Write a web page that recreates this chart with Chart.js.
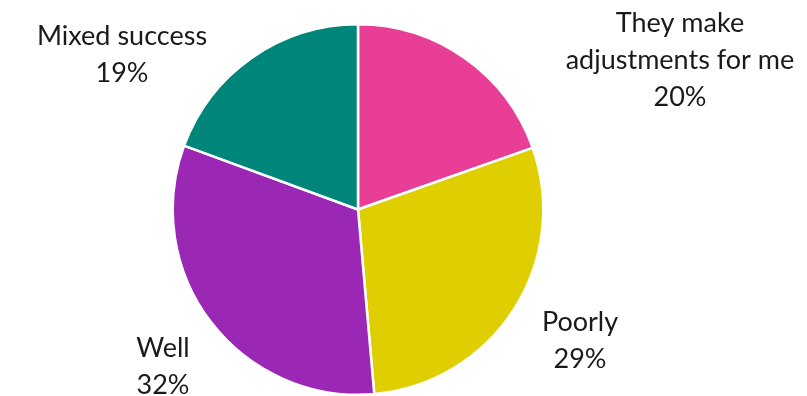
<!DOCTYPE html>
<html>
<head>
<meta charset="utf-8">
<script src="https://cdn.jsdelivr.net/npm/chart.js@4.4.0/dist/chart.umd.min.js"></script>
<style>
  html, body { margin: 0; padding: 0; background: #fff; }
  #wrap { width: 807px; height: 396px; position: relative; }
</style>
</head>
<body>
<div id="wrap"><canvas id="myChart" width="807" height="396"></canvas></div>
<script>
// data
const categories = ['They make adjustments for me', 'Poorly', 'Well', 'Mixed success'];
const labelLines = [['They make', 'adjustments for me'], ['Poorly'], ['Well'], ['Mixed success']];
const values = [19.6, 29.0, 32.0, 19.4];
const colours = ['#E83E96', '#E0CF00', '#9B27B5', '#00857A'];

// where each label sits (centre of text block, px)
const labelSpots = [[680, 60], [580, 341], [163, 367], [122, 55]];

const outsideLabels = {
    id: 'outsideLabels',
    afterDraw(chart) {
        const ctx = chart.ctx;
        const data = chart.data.datasets[0].data;
        const total = data.reduce((a, b) => a + b, 0);
        ctx.save();
        ctx.font = '27px "Century Gothic", "Lato", sans-serif';
        ctx.fillStyle = '#1a1a1a';
        ctx.textAlign = 'center';
        ctx.textBaseline = 'middle';
        const lh = 37;
        data.forEach((v, i) => {
            const lines = labelLines[i].concat([Math.round(v / total * 100) + '%']);
            const [x, y] = labelSpots[i];
            const top = y - (lines.length - 1) * lh / 2;
            lines.forEach((t, j) => ctx.fillText(t, x, top + j * lh));
        });
        ctx.restore();
    }
};

var ctx = document.getElementById('myChart').getContext('2d');
new Chart(ctx, {
    type: 'pie',
    data: {
        labels: categories,
        datasets: [{
            data: values,
            backgroundColor: colours,
            borderColor: '#ffffff',
            borderWidth: 2.5
        }]
    },
    options: {
        responsive: false,
        animation: false,
        layout: { padding: { left: 171, right: 262, top: 23, bottom: 0 } },
        plugins: {
            legend: { display: false },
            tooltip: { enabled: false }
        }
    },
    plugins: [outsideLabels]
});
</script>
</body>
</html>
